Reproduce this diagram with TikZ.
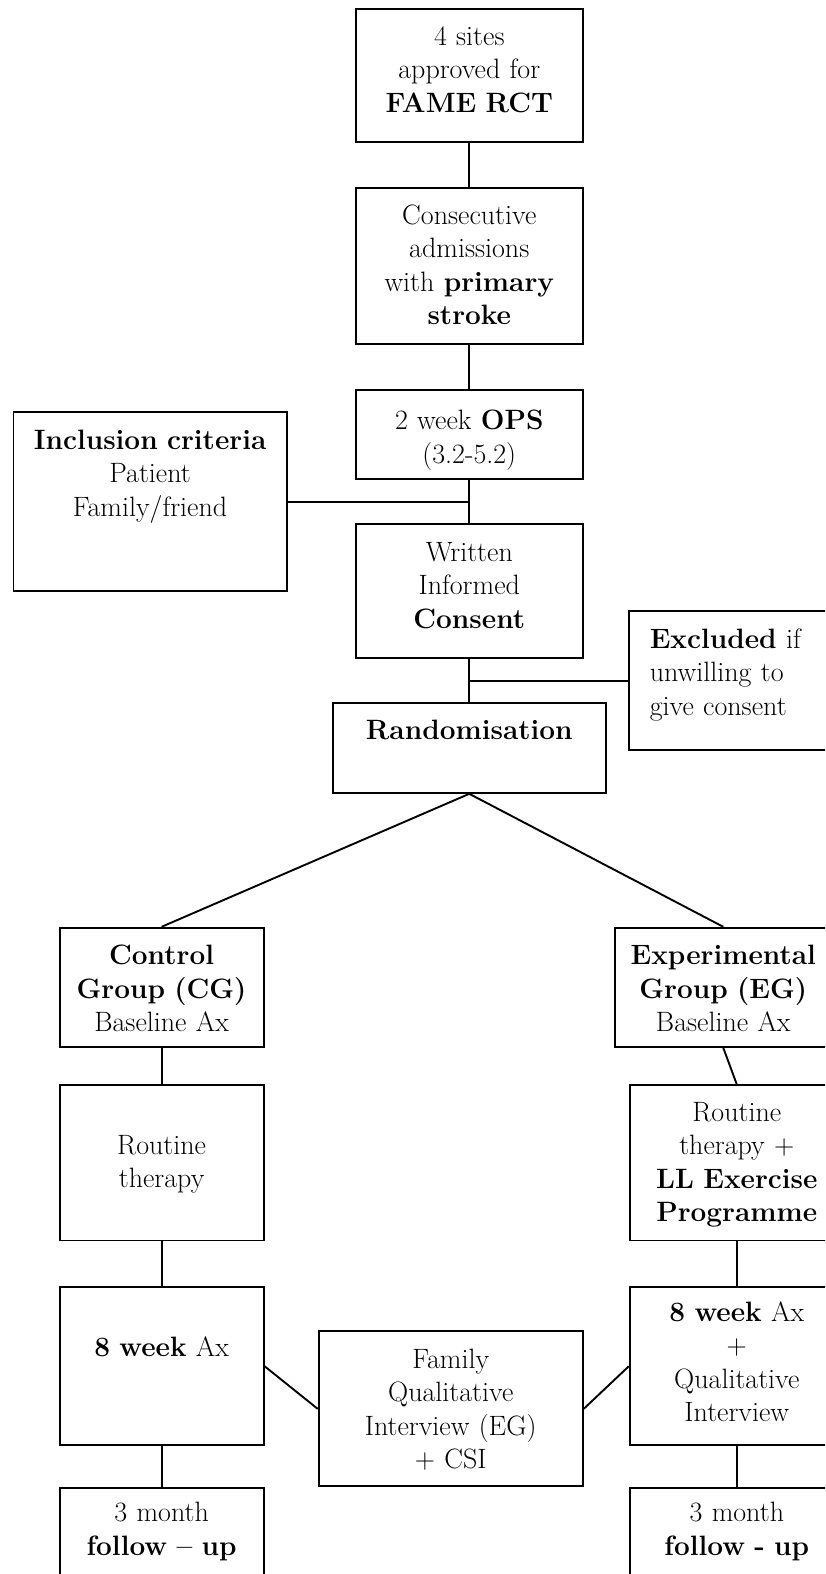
\documentclass[tikz,border=0pt]{standalone}
\begin{document}
\begin{tikzpicture}[x=1.0036pt, y=-1.0036pt,
	box/.style={draw, line width=1.9pt, rectangle, inner sep=4pt, align=center, text height=0pt},
	link/.style={line width=1.9pt},
	every node/.style={font=\fontsize{28}{33.5}\selectfont}]

\useasboundingbox (0,0) rectangle (822,1568);
\clip (0,0) rectangle (822,1568);

%% Rekrutierung
\node[box, minimum width=227pt, minimum height=133pt, text width=217pt, text depth=61pt] (sites) at (467.5,75.5) {4 sites\\ approved for\\ \textbf{FAME RCT}};
\node[box, minimum width=227pt, minimum height=156pt, text width=217pt, text depth=84pt] (admit) at (467.5,265) {Consecutive\\ admissions\\ with \textbf{primary}\\ \textbf{stroke}};
\node[box, minimum width=227pt, minimum height=89pt, text width=217pt, text depth=10pt] (ops) at (467.5,433) {2 week \textbf{OPS}\\ (3.2-5.2)};
\node[box, minimum width=273pt, minimum height=179pt, text width=263pt, text depth=105pt] (incl) at (149.5,500) {\textbf{Inclusion criteria}\\ Patient\\ Family/friend};
\node[box, minimum width=227pt, minimum height=134pt, text width=217pt, text depth=60pt] (consent) at (467.5,589) {Written\\ Informed\\ \textbf{Consent}};
\node[box, align=left, inner xsep=21pt, minimum width=214pt, minimum height=139pt, text width=172pt, text depth=65pt] (excl) at (733,678) {\textbf{Excluded} if\\ unwilling to\\ give consent};
\node[box, minimum width=273pt, minimum height=90pt, text width=263pt, text depth=16pt] (random) at (467.5,745) {\textbf{Randomisation}};
%%%%%%%%%%%%%%%%

%% Kontrollgruppe
\node[box, minimum width=204pt, minimum height=119pt, text width=194pt, text depth=45pt] (cg) at (161,983.5) {\textbf{Control}\\ \textbf{Group (CG)}\\ Baseline Ax};
\node[box, minimum width=204pt, minimum height=155pt, text width=194pt, text depth=17pt] (cgther) at (161,1158.5) {Routine\\ therapy};
\node[box, minimum width=204pt, minimum height=158pt, text width=194pt, text depth=20pt] (cgweek) at (161,1361) {\textbf{8 week} Ax};
\node[box, minimum width=204pt, minimum height=108pt, text width=194pt, text depth=40pt] (cgmonth) at (161,1536) {3 month\\ \textbf{follow -- up}};

%% Experimentalgruppe
\node[box, minimum width=217pt, minimum height=119pt, text width=207pt, text depth=45pt] (eg) at (720.5,983.5) {\textbf{Experimental}\\ \textbf{Group (EG)}\\ Baseline Ax};
\node[box, minimum width=214pt, minimum height=155pt, text width=204pt, text depth=83pt] (egther) at (734,1158.5) {Routine\\ therapy +\\ \textbf{LL Exercise}\\ \textbf{Programme}};
\node[box, minimum width=214pt, minimum height=158pt, text width=204pt, text depth=90pt] (egweek) at (734,1361) {\textbf{8 week} Ax\\ +\\ Qualitative\\ Interview};
\node[box, minimum width=214pt, minimum height=108pt, text width=204pt, text depth=40pt] (egmonth) at (734,1536) {3 month\\ \textbf{follow - up}};

%% Interview
\node[box, minimum width=264pt, minimum height=155pt, text width=254pt, text depth=81pt] (family) at (449,1403.5) {Family\\ Qualitative\\ Interview (EG)\\ + CSI};
%%%%%%%%%%%%%%%%

%% Verbindungen
\draw[link] (sites) -- (admit);
\draw[link] (admit) -- (ops);
\draw[link] (ops) -- (consent);
\draw[link] (incl.east) -- (incl.east -| ops.south);
\draw[link] (consent) -- (random);
\draw[link] (excl.west) -- (excl.west -| consent.south);
\draw[link] (random.south) -- (cg.north);
\draw[link] (random.south) -- (eg.north);
\draw[link] (cg) -- (cgther);
\draw[link] (cgther) -- (cgweek);
\draw[link] (cgweek) -- (cgmonth);
\draw[link] (eg.south) -- (egther.north);
\draw[link] (egther) -- (egweek);
\draw[link] (egweek) -- (egmonth);
\draw[link] (cgweek.east) -- (family.west);
\draw[link] (family.east) -- (egweek.west);

\end{tikzpicture}
\end{document}
